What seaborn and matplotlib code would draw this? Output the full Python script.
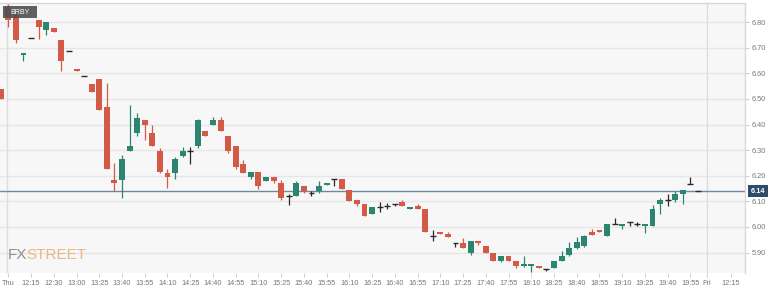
import numpy as np
import pandas as pd
import matplotlib
matplotlib.use("Agg")
import matplotlib.pyplot as plt
from matplotlib.patches import Rectangle
import seaborn as sns

# ---- data ----
opens = [6.54, 6.86, 6.83, 6.672, 6.74, 6.81, 6.769, 6.777, 6.73, 6.688,
         6.617, 6.59, 6.559, 6.578, 6.469, 6.185, 6.185, 6.298, 6.368, 6.419,
         6.368, 6.298, 6.209, 6.209, 6.279, 6.298, 6.317, 6.376, 6.399, 6.419,
         6.356, 6.317, 6.247, 6.197, 6.216, 6.178, 6.197, 6.170, 6.119, 6.119,
         6.158, 6.131, 6.139, 6.162, 6.189, 6.189, 6.146, 6.107, 6.088, 6.049,
         6.077, 6.080, 6.088, 6.096, 6.069, 6.080, 6.069, 5.963, 5.979, 5.971,
         5.936, 5.936, 5.897, 5.944, 5.924, 5.897, 5.866, 5.886, 5.866, 5.847,
         5.847, 5.847, 5.837, 5.839, 5.866, 5.889, 5.917, 5.924, 5.979, 5.987,
         5.963, 6.013, 6.002, 6.020, 6.013, 6.002, 6.002, 6.088, 6.107, 6.107,
         6.127, 6.166, 6.139]
highs = [6.54, 6.87, 6.83, 6.68, 6.74, 6.81, 6.80, 6.777, 6.73, 6.688,
         6.617, 6.59, 6.559, 6.578, 6.563, 6.251, 6.283, 6.477, 6.446, 6.419,
         6.399, 6.310, 6.228, 6.275, 6.314, 6.314, 6.423, 6.376, 6.430, 6.430,
         6.356, 6.317, 6.263, 6.216, 6.216, 6.197, 6.197, 6.185, 6.127, 6.178,
         6.158, 6.139, 6.178, 6.170, 6.189, 6.189, 6.146, 6.107, 6.088, 6.077,
         6.096, 6.092, 6.088, 6.104, 6.077, 6.088, 6.069, 5.987, 5.979, 5.979,
         5.936, 5.955, 5.944, 5.944, 5.924, 5.897, 5.886, 5.886, 5.866, 5.886,
         5.855, 5.847, 5.837, 5.866, 5.905, 5.940, 5.960, 5.967, 5.990, 5.987,
         6.013, 6.033, 6.013, 6.020, 6.020, 6.010, 6.084, 6.115, 6.127, 6.139,
         6.146, 6.197, 6.139]
lows = [6.50, 6.78, 6.718, 6.648, 6.74, 6.734, 6.75, 6.761, 6.609, 6.688,
        6.609, 6.59, 6.528, 6.458, 6.228, 6.139, 6.115, 6.298, 6.356, 6.341,
        6.317, 6.212, 6.154, 6.189, 6.275, 6.247, 6.310, 6.356, 6.399, 6.376,
        6.290, 6.228, 6.209, 6.189, 6.150, 6.178, 6.170, 6.107, 6.084, 6.119,
        6.131, 6.119, 6.131, 6.162, 6.158, 6.150, 6.100, 6.080, 6.041, 6.049,
        6.057, 6.072, 6.080, 6.080, 6.069, 6.069, 5.979, 5.944, 5.971, 5.960,
        5.920, 5.917, 5.889, 5.928, 5.897, 5.866, 5.862, 5.866, 5.839, 5.843,
        5.824, 5.839, 5.828, 5.839, 5.866, 5.886, 5.913, 5.920, 5.967, 5.979,
        5.963, 6.013, 5.990, 6.002, 6.005, 5.975, 6.002, 6.049, 6.080, 6.096,
        6.088, 6.166, 6.139]
closes = [6.50, 6.81, 6.73, 6.68, 6.74, 6.78, 6.80, 6.761, 6.648, 6.688,
          6.609, 6.59, 6.528, 6.458, 6.228, 6.170, 6.267, 6.317, 6.426, 6.399,
          6.317, 6.216, 6.197, 6.267, 6.298, 6.298, 6.419, 6.356, 6.419, 6.376,
          6.298, 6.236, 6.209, 6.216, 6.158, 6.197, 6.178, 6.115, 6.119, 6.170,
          6.139, 6.131, 6.158, 6.170, 6.189, 6.150, 6.100, 6.088, 6.041, 6.077,
          6.077, 6.080, 6.088, 6.080, 6.077, 6.069, 5.979, 5.963, 5.971, 5.960,
          5.936, 5.917, 5.944, 5.936, 5.897, 5.866, 5.886, 5.866, 5.847, 5.855,
          5.855, 5.839, 5.837, 5.866, 5.886, 5.917, 5.940, 5.963, 5.967, 5.979,
          6.013, 6.013, 6.013, 6.020, 6.013, 6.010, 6.072, 6.107, 6.107, 6.127,
          6.146, 6.166, 6.139]
tick_labels = ["Thu", "12:15", "12:30", "13:00", "13:25", "13:40", "13:55", "14:10",
               "14:25", "14:40", "14:55", "15:10", "15:25", "15:40", "15:55", "16:10",
               "16:25", "16:40", "16:55", "17:10", "17:25", "17:40", "17:55", "18:10",
               "18:25", "18:40", "18:55", "19:10", "19:25", "19:40", "19:55", "Fri", "12:15"]
y_ticks = [5.90, 6.00, 6.10, 6.20, 6.30, 6.40, 6.50, 6.60, 6.70, 6.80]
last_price = 6.14
symbol = "BRBY"

# ---- style ----
sns.set_theme(style="white")
plt.rcParams["font.family"] = ["Liberation Sans", "DejaVu Sans"]

RED = "#d45a48"
GREEN = "#2b8571"
DOJI = "#2a2a2a"
GRID = "#e6e6e8"

df = pd.DataFrame({"open": opens, "high": highs, "low": lows, "close": closes})
df["idx"] = np.arange(len(df))
df["kind"] = np.where(df["close"] > df["open"], "up",
                      np.where(df["close"] < df["open"], "down", "flat"))
colors = {"up": GREEN, "down": RED, "flat": DOJI}

W, H = 768, 287
fig = plt.figure(figsize=(W / 100, H / 100), dpi=100)
fig.patch.set_facecolor("white")
ax = fig.add_axes([0, 14 / H, 745 / W, 270 / H])
ax.set_facecolor("#f7f7f8")

# grid
for yv in y_ticks:
    ax.axhline(yv, color=GRID, lw=1.0, zorder=0)
day_marks = [0.85, 93.2]
for xv in day_marks:
    ax.axvline(xv, color="#dcdce0", lw=0.9, zorder=0)

# candles
w = 0.78
for kind, sub in df.groupby("kind"):
    c = colors[kind]
    ax.vlines(sub["idx"], sub["low"], sub["high"], color=c, lw=0.9, zorder=2)
    if kind == "flat":
        ax.hlines(sub["open"], sub["idx"] - w / 2, sub["idx"] + w / 2, color=c, lw=1.0, zorder=3)
    else:
        bottom = np.minimum(sub["open"], sub["close"])
        height = np.abs(sub["close"] - sub["open"])
        ax.bar(sub["idx"], height, bottom=bottom, width=w, color=c, linewidth=0, zorder=3)

# last price line
ax.axhline(last_price, color="#6f88a0", lw=1.0, zorder=1)

ax.set_xlim(-0.1, 98.2)
ax.set_ylim(5.82, 6.875)

# axes styling
for s in ["left", "bottom"]:
    ax.spines[s].set_visible(False)
for s in ["top", "right"]:
    ax.spines[s].set_visible(True)
    ax.spines[s].set_color("#d8d8dc")
    ax.spines[s].set_linewidth(1.0)

ax.yaxis.tick_right()
ax.set_yticks(y_ticks)
ax.set_yticklabels([f"{v:.2f}" for v in y_ticks])
tick_pos = [1 + 3 * i for i in range(31)] + [93.2, 96.3]
ax.set_xticks(tick_pos)
ax.set_xticklabels(tick_labels)
ax.tick_params(axis="y", which="both", right=True, length=3, width=0.6, color="#c8c8cc",
               labelsize=5.3, labelcolor="#777777", pad=2)
ax.tick_params(axis="x", which="both", bottom=True, length=3, width=0.6, color="#c8c8cc",
               labelsize=5.3, labelcolor="#777777", pad=2)

# last price tag
ax.annotate(f"{last_price:.2f}", xy=(1, last_price), xycoords=("axes fraction", "data"),
            xytext=(4, 0), textcoords="offset points", ha="left", va="center",
            fontsize=5.3, color="white", fontweight="bold",
            bbox=dict(boxstyle="square,pad=0.35", fc="#2d4b6b", ec="none"), zorder=5)

# symbol tag
fig.patches.append(Rectangle((3 / W, (H - 18) / H), 34 / W, 12 / H, transform=fig.transFigure,
                             facecolor="#505050", alpha=0.9, edgecolor="none", zorder=6))
fig.text(10 / W, (H - 12) / H, symbol, ha="left", va="center", fontsize=5.0, color="white",
         zorder=7)

# watermark
wm_family = ["Liberation Sans Narrow", "Liberation Sans", "DejaVu Sans"]
t1 = ax.text(0.011, 0.04, "FX", transform=ax.transAxes, ha="left", va="bottom",
             fontsize=11, color="#8d8d8d", family=wm_family, zorder=1)
ax.annotate("STREET", xy=(0.93, 0), xycoords=t1, ha="left", va="bottom",
            fontsize=11, color="#ecb77e", family=wm_family, zorder=1)

fig.savefig("out.png", dpi=100)
